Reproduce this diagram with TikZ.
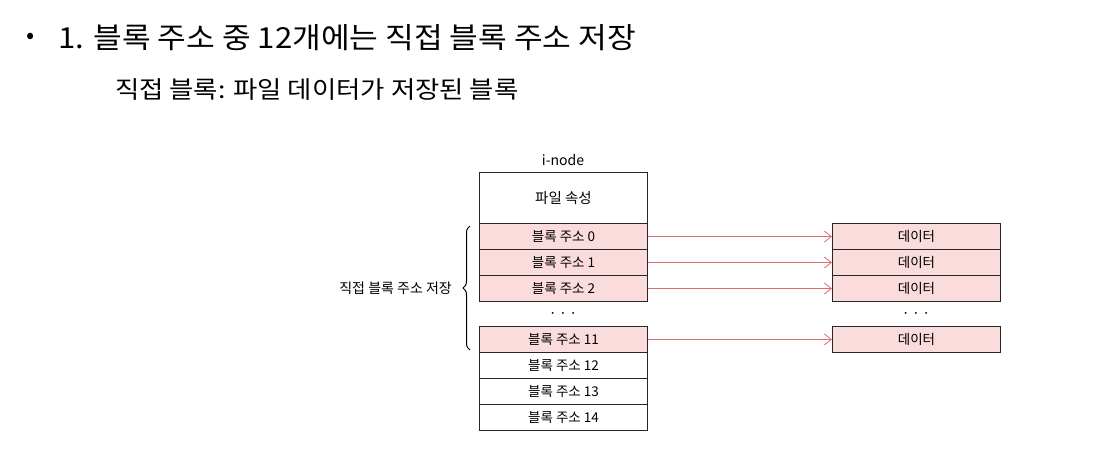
\documentclass[tikz,border=0pt]{standalone}
\usepackage{fontspec}
\usepackage{graphicx}
\setmainfont{Noto Sans CJK KR}
\usetikzlibrary{decorations.pathreplacing,arrows.meta}
\definecolor{cellpink}{HTML}{F9DCDB}
\definecolor{arrowred}{HTML}{E36A6A}
\begin{document}
\begin{tikzpicture}[x=1pt,y=-1pt,
  cell/.style={draw=black!85, line width=1pt, minimum width=168pt, minimum height=26pt, inner sep=0pt, font=\fontsize{13.5}{15}\selectfont, anchor=north west},
  pcell/.style={cell, fill=cellpink},
  ptr/.style={draw=arrowred, line width=0.8pt, -{Straight Barb[length=7pt,width=11pt]}},
  small/.style={font=\fontsize{14}{16}\selectfont, inner sep=0pt}]
\useasboundingbox (0,0) rectangle (1098,458);
% heading
\node[font=\fontsize{24}{28}\selectfont, inner sep=0pt] (bul) at (31,38) {•};
\node[font=\fontsize{29}{34}\selectfont, inner sep=0pt, anchor=west] (title) at (58,38) {\scalebox{1.075}[1]{1. 블록 주소 중 12개에는 직접 블록 주소 저장}};
\node[font=\fontsize{24}{28}\selectfont, inner sep=0pt, anchor=west] (sub) at (115,90) {\scalebox{1.1}[1]{직접 블록: 파일 데이터가 저장된 블록}};
% i-node
\node[small] (lbl) at (563,160) {i-node};
\node[cell, minimum height=51pt, font=\fontsize{14.5}{16}\selectfont] (attr) at (479,172) {파일 속성};
\node[pcell] (b0) at (479,223) {블록 주소 0};
\node[pcell] (b1) at (479,249) {블록 주소 1};
\node[pcell] (b2) at (479,275) {블록 주소 2};
\node[small] (dl) at (563,315) {·\,·\,·};
\node[pcell] (b11) at (479,326) {블록 주소 11};
\node[cell] (b12) at (479,352) {블록 주소 12};
\node[cell] (b13) at (479,378) {블록 주소 13};
\node[cell] (b14) at (479,404) {블록 주소 14};
% data
\node[pcell] (d0) at (832,223) {데이터};
\node[pcell] (d1) at (832,249) {데이터};
\node[pcell] (d2) at (832,275) {데이터};
\node[small] (dr) at (916,315) {·\,·\,·};
\node[pcell] (d11) at (832,326) {데이터};
% arrows
\draw[ptr] (b0) -- (d0);
\draw[ptr] (b1) -- (d1);
\draw[ptr] (b2) -- (d2);
\draw[ptr] (b11) -- (d11);
% brace
\coordinate (bb) at (470,350);
\coordinate (bt) at (470,226);
\draw[line width=1pt, decorate, decoration={brace, amplitude=7pt}] (bb) -- (bt);
\node[small, anchor=east] (blabel) at (452,288) {직접 블록 주소 저장};
\end{tikzpicture}
\end{document}
